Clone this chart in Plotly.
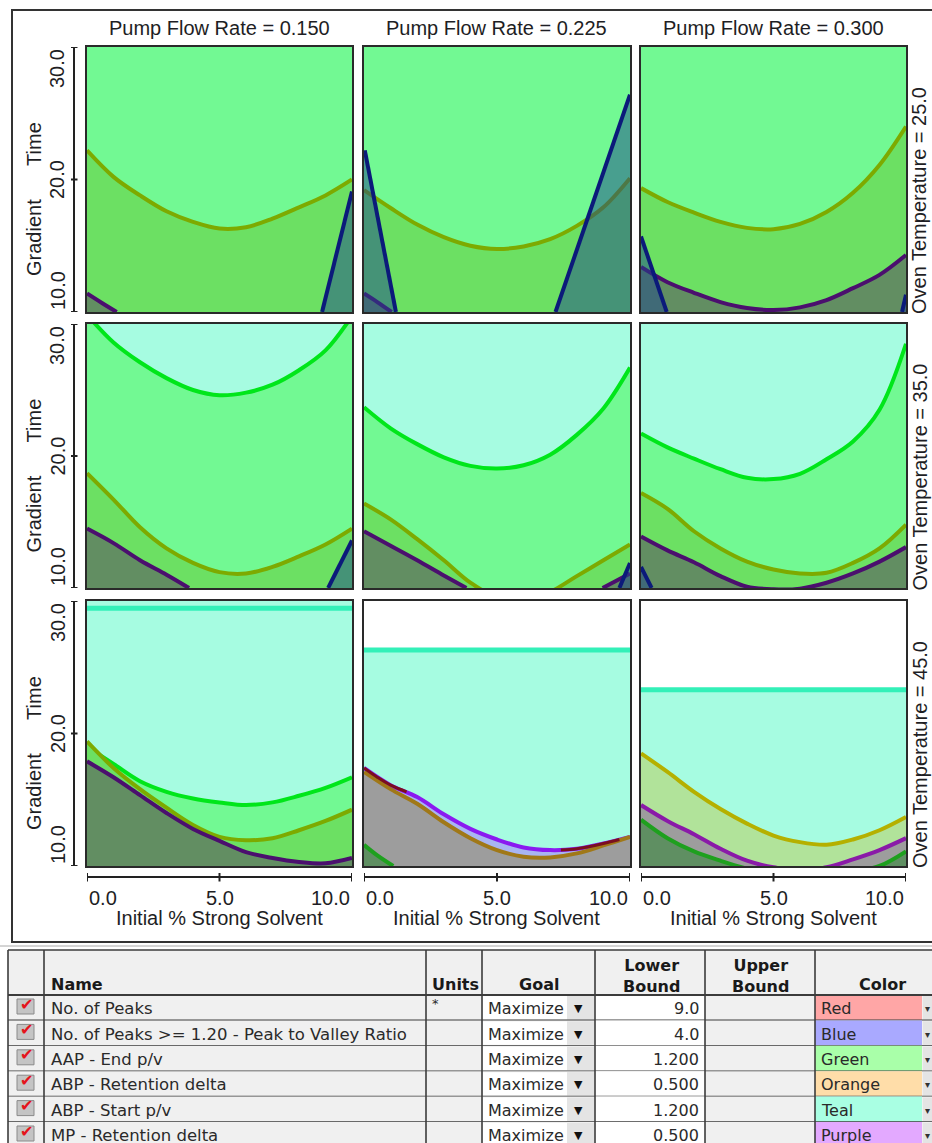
import plotly.graph_objects as go

W, H = 932, 1143

# ---------------- data ----------------
X_GRID = [0, 1, 2, 3, 4, 5, 6, 7, 8, 9, 10]
X_EDGES = [0, 10]
X_TICKS = [0.0, 5.0, 10.0]
X_TICK_TEXT = ["0.0", "5.0", "10.0"]
Y_TICKS = [10.0, 20.0, 30.0]
Y_TICK_TEXT = ["10.0", "20.0", "30.0"]
PUMP_FLOW = ["0.150", "0.225", "0.300"]
OVEN_TEMP = ["25.0", "35.0", "45.0"]
X_TITLE = "Initial % Strong Solvent"
Y_TITLE_A = "Gradient"
Y_TITLE_B = "Time"

# Oven Temperature = 25.0
R1C1_OLIVE = [22.2, 20.2, 18.8, 17.6, 16.8, 16.3, 16.4, 17.05, 17.9, 18.8, 20.0]
R1C1_PURPLE_X = [0.0, 0.55, 1.12]
R1C1_PURPLE_Y = [11.4, 10.7, 10.0]
R1C1_BLUE_X = [8.87, 10.0]
R1C1_BLUE_Y = [10.0, 19.1]

R1C2_OLIVE = [19.2, 17.85, 16.6, 15.65, 15.0, 14.75, 14.95, 15.5, 16.5, 17.9, 20.1]
R1C2_PURPLE_X = [0.0, 0.5, 1.04]
R1C2_PURPLE_Y = [11.4, 10.75, 10.0]
R1C2_BLUE_L_X = [0.03, 1.2]
R1C2_BLUE_L_Y = [22.2, 10.0]
R1C2_BLUE_R_X = [7.2, 10.0]
R1C2_BLUE_R_Y = [10.0, 26.4]

R1C3_OLIVE = [19.35, 18.3, 17.5, 16.8, 16.35, 16.25, 16.65, 17.55, 19.0, 21.1, 24.0]
R1C3_PURPLE = [13.4, 12.25, 11.45, 10.75, 10.3, 10.15, 10.35, 10.9, 11.8, 12.8, 14.3]
R1C3_BLUE_L_X = [0.0, 0.97]
R1C3_BLUE_L_Y = [15.7, 10.0]
R1C3_BLUE_R_X = [9.85, 10.0]
R1C3_BLUE_R_Y = [10.0, 11.3]

# Oven Temperature = 35.0
R2C1_GREEN = [30.7, 28.6, 27.1, 25.9, 25.0, 24.6, 24.8, 25.4, 26.5, 28.0, 30.6]
R2C1_OLIVE = [18.7, 16.7, 14.6, 13.0, 11.9, 11.2, 11.1, 11.6, 12.4, 13.3, 14.5]
R2C1_PURPLE_X = [0.0, 1.0, 2.0, 3.0, 3.85]
R2C1_PURPLE_Y = [14.5, 13.4, 12.1, 11.0, 10.0]
R2C1_BLUE_X = [9.1, 10.0]
R2C1_BLUE_Y = [10.0, 13.6]

R2C2_GREEN = [23.7, 22.1, 20.9, 19.9, 19.25, 19.05, 19.3, 20.1, 21.6, 23.6, 26.7]
R2C2_OLIVE = [16.4, 15.2, 13.7, 12.1, 10.4, 9.3, 9.0, 9.7, 10.9, 12.1, 13.3]
R2C2_PURPLE_L_X = [0.0, 1.0, 2.0, 3.0, 3.85]
R2C2_PURPLE_L_Y = [14.3, 13.2, 12.1, 10.95, 10.0]
R2C2_PURPLE_R_X = [8.97, 10.0]
R2C2_PURPLE_R_Y = [10.0, 11.1]
R2C2_BLUE_X = [9.6, 10.0]
R2C2_BLUE_Y = [10.0, 11.9]

R2C3_GREEN = [21.7, 20.65, 19.8, 19.0, 18.35, 18.25, 18.65, 19.75, 21.1, 23.5, 28.5]
R2C3_OLIVE = [17.2, 16.0, 14.3, 13.0, 12.0, 11.4, 11.1, 11.15, 11.9, 13.0, 14.8]
R2C3_PURPLE = [13.9, 12.85, 11.95, 10.9, 10.1, 9.9, 9.95, 10.4, 11.1, 12.0, 13.1]
R2C3_BLUE_X = [0.0, 0.4]
R2C3_BLUE_Y = [11.6, 10.0]

# Oven Temperature = 45.0
R3C1_TEAL = [29.45, 29.45]
R3C1_GREEN = [19.0, 17.7, 16.4, 15.6, 15.1, 14.8, 14.6, 14.8, 15.3, 15.9, 16.7]
R3C1_OLIVE = [19.4, 17.4, 15.8, 14.4, 13.1, 12.2, 11.95, 12.1, 12.7, 13.4, 14.25]
R3C1_PURPLE = [17.9, 16.7, 15.35, 14.0, 12.8, 11.9, 11.05, 10.6, 10.3, 10.2, 10.6]

R3C2_TEAL = [26.3, 26.3]
R3C2_VIOLET = [17.4, 16.1, 15.2, 13.9, 12.8, 12.0, 11.4, 11.2, 11.3, 11.7, 12.2]
R3C2_BROWN = [17.1, 15.8, 14.7, 13.3, 12.1, 11.2, 10.7, 10.65, 10.95, 11.55, 12.2]
R3C2_GREEN_X = [0.0, 0.5, 1.1]
R3C2_GREEN_Y = [11.6, 10.8, 10.0]
R3C2_RED_L_X = [0.0, 0.5, 1.0, 1.6]
R3C2_RED_L_Y = [17.4, 16.7, 16.1, 15.6]
R3C2_RED_R_X = [7.4, 8.0, 9.0, 9.6]
R3C2_RED_R_Y = [11.2, 11.3, 11.7, 12.0]

R3C3_TEAL = [23.3, 23.3]
R3C3_YELLOW = [18.5, 17.1, 15.6, 14.3, 13.2, 12.3, 11.8, 11.6, 12.0, 12.7, 13.7]
R3C3_PURPLE = [14.6, 13.4, 12.4, 11.3, 10.4, 9.9, 9.7, 9.9, 10.5, 11.2, 12.1]
R3C3_GREEN = [13.5, 12.1, 11.1, 10.4, 9.8, 9.4, 9.3, 9.4, 9.6, 10.0, 11.1]

# criteria table
TABLE_NAMES = ["No. of Peaks", "No. of Peaks >= 1.20 - Peak to Valley Ratio",
               "AAP - End p/v", "ABP - Retention delta", "ABP - Start p/v",
               "MP - Retention delta"]
TABLE_UNITS = ["*", "", "", "", "", ""]
TABLE_GOALS = ["Maximize"] * 6
TABLE_LOWER = ["9.0", "4.0", "1.200", "0.500", "1.200", "0.500"]
TABLE_UPPER = [""] * 6
TABLE_COLOR_NAMES = ["Red", "Blue", "Green", "Orange", "Teal", "Purple"]
TABLE_COLOR_FILLS = ["#FFA6A6", "#A9A9FF", "#A9FFA9", "#FFDDA9", "#A9FFE3", "#E3A9FF"]
TABLE_HEADERS = ["Name", "Units", "Goal", "Lower<br>Bound", "Upper<br>Bound", "Color"]

# ---------------- styles ----------------
C_LG = "#72F993"
C_MG = "#6CE063"
C_TEAL = "#A6FCE1"
C_PURPLE_OV = "rgba(84,21,98,0.4)"
C_BLUE_OV = "rgba(30,70,140,0.5)"
L_OLIVE = "#7DAA00"
L_BLUE = "#0B1A7A"
L_PURPLE = "#4B0F6E"
L_GREEN = "#00E61A"
L_TEAL = "#33F0B8"
L_VIOLET = "#8A1AF0"
L_BROWN = "#A07818"
L_DKGREEN = "#1EA01E"
L_PURPLE2 = "#8A1AA8"
L_YELLOW = "#B5B000"
L_RED = "#7A0F1E"
F_LBLUE = "#A8B5F2"
F_GRAY = "#9D9D9D"
F_DKGREEN = "#5F8F62"
F_YG = "#B1E39A"
TXT = "#1E1E24"
FONT = "Liberation Sans, Arial, sans-serif"
TFONT = "DejaVu Sans, Verdana, sans-serif"

COLS_PX = [(87, 352), (364, 630), (641, 906)]
ROWS_PX = [(47, 312), (324, 588), (601, 866)]


def fx(px):
    return px / W


def fy(py):
    return 1 - py / H


def names(k):
    return ("x" if k == 1 else f"x{k}", "y" if k == 1 else f"y{k}")


PANELS = {
    (1, 1): (C_LG, [
        ("below", X_GRID, R1C1_OLIVE, C_MG, L_OLIVE, 4),
        ("below", R1C1_PURPLE_X, R1C1_PURPLE_Y, C_PURPLE_OV, L_PURPLE, 4),
        ("right", R1C1_BLUE_X, R1C1_BLUE_Y, C_BLUE_OV, L_BLUE, 4),
    ]),
    (1, 2): (C_LG, [
        ("below", X_GRID, R1C2_OLIVE, C_MG, L_OLIVE, 4),
        ("below", R1C2_PURPLE_X, R1C2_PURPLE_Y, C_PURPLE_OV, L_PURPLE, 4),
        ("left", R1C2_BLUE_L_X, R1C2_BLUE_L_Y, C_BLUE_OV, L_BLUE, 4),
        ("right", R1C2_BLUE_R_X, R1C2_BLUE_R_Y, C_BLUE_OV, L_BLUE, 4),
    ]),
    (1, 3): (C_LG, [
        ("below", X_GRID, R1C3_OLIVE, C_MG, L_OLIVE, 4),
        ("below", X_GRID, R1C3_PURPLE, C_PURPLE_OV, L_PURPLE, 4),
        ("left", R1C3_BLUE_L_X, R1C3_BLUE_L_Y, C_BLUE_OV, L_BLUE, 4),
        ("right", R1C3_BLUE_R_X, R1C3_BLUE_R_Y, C_BLUE_OV, L_BLUE, 4),
    ]),
    (2, 1): (C_TEAL, [
        ("below", X_GRID, R2C1_GREEN, C_LG, L_GREEN, 4),
        ("below", X_GRID, R2C1_OLIVE, C_MG, L_OLIVE, 4),
        ("below", R2C1_PURPLE_X, R2C1_PURPLE_Y, C_PURPLE_OV, L_PURPLE, 4),
        ("right", R2C1_BLUE_X, R2C1_BLUE_Y, C_BLUE_OV, L_BLUE, 4),
    ]),
    (2, 2): (C_TEAL, [
        ("below", X_GRID, R2C2_GREEN, C_LG, L_GREEN, 4),
        ("below", X_GRID, R2C2_OLIVE, C_MG, L_OLIVE, 4),
        ("below", R2C2_PURPLE_L_X, R2C2_PURPLE_L_Y, C_PURPLE_OV, L_PURPLE, 4),
        ("right", R2C2_PURPLE_R_X, R2C2_PURPLE_R_Y, C_PURPLE_OV, L_PURPLE, 4),
        ("right", R2C2_BLUE_X, R2C2_BLUE_Y, C_BLUE_OV, L_BLUE, 4),
    ]),
    (2, 3): (C_TEAL, [
        ("below", X_GRID, R2C3_GREEN, C_LG, L_GREEN, 4),
        ("below", X_GRID, R2C3_OLIVE, C_MG, L_OLIVE, 4),
        ("below", X_GRID, R2C3_PURPLE, C_PURPLE_OV, L_PURPLE, 4),
        ("left", R2C3_BLUE_X, R2C3_BLUE_Y, C_BLUE_OV, L_BLUE, 4),
    ]),
    (3, 1): (C_TEAL, [
        ("below", X_EDGES, R3C1_TEAL, C_TEAL, L_TEAL, 5),
        ("below", X_GRID, R3C1_GREEN, C_LG, L_GREEN, 4),
        ("below", X_GRID, R3C1_OLIVE, C_MG, L_OLIVE, 4),
        ("below", X_GRID, R3C1_PURPLE, C_PURPLE_OV, L_PURPLE, 4),
    ]),
    (3, 2): ("#FFFFFF", [
        ("below", X_EDGES, R3C2_TEAL, C_TEAL, L_TEAL, 5),
        ("below", X_GRID, R3C2_VIOLET, F_LBLUE, L_VIOLET, 4),
        ("below", X_GRID, R3C2_BROWN, F_GRAY, L_BROWN, 4),
        ("below", R3C2_GREEN_X, R3C2_GREEN_Y, F_DKGREEN, L_DKGREEN, 4),
        ("line", R3C2_RED_L_X, R3C2_RED_L_Y, None, L_RED, 3),
        ("line", R3C2_RED_R_X, R3C2_RED_R_Y, None, L_RED, 3),
    ]),
    (3, 3): ("#FFFFFF", [
        ("below", X_EDGES, R3C3_TEAL, C_TEAL, L_TEAL, 5),
        ("below", X_GRID, R3C3_YELLOW, F_YG, L_YELLOW, 4),
        ("below", X_GRID, R3C3_PURPLE, F_GRAY, L_PURPLE2, 4),
        ("below", X_GRID, R3C3_GREEN, F_DKGREEN, L_DKGREEN, 4),
    ]),
}

fig = go.Figure()
shapes = []
annotations = []


def add_layer(k, kind, xs, ys, fill, line, width):
    xa, ya = names(k)
    common = dict(xaxis=xa, yaxis=ya, mode="lines", hoverinfo="skip", showlegend=False)
    if kind == "below":
        fig.add_trace(go.Scatter(x=xs, y=ys, fill="tozeroy", fillcolor=fill,
                                 line=dict(color=line, width=width, shape="spline", smoothing=1.0),
                                 **common))
    elif kind in ("left", "right"):
        edge = -1 if kind == "left" else 11
        fig.add_trace(go.Scatter(x=list(xs) + [edge, edge], y=list(ys) + [ys[-1], ys[0]],
                                 fill="toself", fillcolor=fill, line=dict(width=0), **common))
        fig.add_trace(go.Scatter(x=xs, y=ys, line=dict(color=line, width=width), **common))
    else:
        fig.add_trace(go.Scatter(x=xs, y=ys, line=dict(color=line, width=width, shape="spline"),
                                 **common))


layout = dict(width=W, height=H, margin=dict(l=0, r=0, t=0, b=0),
              paper_bgcolor="white", plot_bgcolor="white", showlegend=False)

for r in range(1, 4):
    for c in range(1, 4):
        k = (r - 1) * 3 + c
        xa, ya = names(k)
        x0, x1 = COLS_PX[c - 1]
        t0, b0 = ROWS_PX[r - 1]
        axstyle = dict(showgrid=False, zeroline=False, showticklabels=False, ticks="",
                       showline=True, mirror=True, linecolor="#2A2A2A", linewidth=2)
        layout["xaxis" + ("" if k == 1 else str(k))] = dict(domain=[fx(x0), fx(x1)], range=[0, 10],
                                                           anchor=ya, **axstyle)
        layout["yaxis" + ("" if k == 1 else str(k))] = dict(domain=[fy(b0), fy(t0)], range=[10, 30],
                                                           anchor=xa, **axstyle)
        bg, layers = PANELS[(r, c)]
        shapes.append(dict(type="rect", xref=f"{xa} domain", yref=f"{ya} domain",
                           x0=0, x1=1, y0=0, y1=1, fillcolor=bg, line=dict(width=0), layer="below"))
        for lay in layers:
            add_layer(k, *lay)

# column titles
for c in range(3):
    x0, x1 = COLS_PX[c]
    annotations.append(dict(text=f"Pump Flow Rate = {PUMP_FLOW[c]}", xref="paper", yref="paper",
                            x=fx((x0 + x1) / 2), y=fy(28), xanchor="center", yanchor="middle",
                            showarrow=False, font=dict(family=FONT, size=20, color=TXT)))

# row titles (right) and left y axes
for r in range(3):
    t0, b0 = ROWS_PX[r]
    k = r * 3 + 1
    ya = names(k)[1]
    annotations.append(dict(text=f"Oven Temperature = {OVEN_TEMP[r]}", xref="paper", yref="paper",
                            x=fx(919.5), y=fy((t0 + b0) / 2 + 21), xanchor="center", yanchor="middle",
                            textangle=-90, showarrow=False, font=dict(family=FONT, size=20, color=TXT)))
    annotations.append(dict(text=Y_TITLE_A + "\u00a0" * 6 + Y_TITLE_B, xref="paper", yref="paper",
                            x=fx(33.5), y=fy((t0 + b0) / 2 + 20), xanchor="center", yanchor="middle",
                            textangle=-90, showarrow=False, font=dict(family=FONT, size=20, color=TXT)))
    shapes.append(dict(type="line", xref="paper", yref=ya, x0=fx(74), x1=fx(74), y0=Y_TICKS[0],
                       y1=Y_TICKS[-1], line=dict(color="#222", width=2)))
    for i, v in enumerate(Y_TICKS):
        shapes.append(dict(type="line", xref="paper", yref=ya, x0=fx(71), x1=fx(77.5), y0=v, y1=v,
                           line=dict(color="#222", width=2)))
        anch = "bottom" if i == 0 else ("top" if i == len(Y_TICKS) - 1 else "middle")
        annotations.append(dict(text=Y_TICK_TEXT[i], xref="paper", yref=ya, x=fx(57.5), y=v,
                                xanchor="center", yanchor=anch, textangle=-90, showarrow=False,
                                font=dict(family=FONT, size=20, color=TXT)))

# bottom x axes
for c in range(3):
    k = 6 + c + 1
    xa = names(k)[0]
    x0, x1 = COLS_PX[c]
    shapes.append(dict(type="line", xref=xa, yref="paper", x0=X_TICKS[0], x1=X_TICKS[-1],
                       y0=fy(877), y1=fy(877), line=dict(color="#222", width=2)))
    for i, v in enumerate(X_TICKS):
        shapes.append(dict(type="line", xref=xa, yref="paper", x0=v, x1=v, y0=fy(873), y1=fy(881.5),
                           line=dict(color="#222", width=2)))
        anch = "left" if i == 0 else ("right" if i == len(X_TICKS) - 1 else "center")
        annotations.append(dict(text=X_TICK_TEXT[i], xref=xa, yref="paper", x=v, y=fy(898),
                                xanchor=anch, yanchor="middle", showarrow=False,
                                font=dict(family=FONT, size=20, color=TXT)))
    annotations.append(dict(text=X_TITLE, xref="paper", yref="paper", x=fx((x0 + x1) / 2), y=fy(918),
                            xanchor="center", yanchor="middle", showarrow=False,
                            font=dict(family=FONT, size=20, color=TXT)))

# outer frame of the graph area
shapes.append(dict(type="rect", xref="paper", yref="paper", x0=fx(12), x1=fx(950), y0=fy(942), y1=fy(10),
                   line=dict(color="#333", width=2), fillcolor="rgba(0,0,0,0)"))
shapes.append(dict(type="line", xref="paper", yref="paper", x0=fx(0), x1=fx(932), y0=fy(946), y1=fy(946),
                   line=dict(color="#AAA", width=1)))

# ---------------- criteria table ----------------
COL_EDGES = [8, 44, 426, 482, 595, 705, 815, 950]
T_TOP, T_HEAD = 950, 995
ROW_H = 25.4
GRID = "#3C3C3C"
CELL_GRAY = "#F0F0F0"

shapes.append(dict(type="rect", xref="paper", yref="paper", x0=fx(COL_EDGES[0]), x1=fx(COL_EDGES[-1]),
                   y0=fy(T_HEAD), y1=fy(T_TOP), fillcolor=CELL_GRAY, line=dict(width=0)))
n_rows = len(TABLE_NAMES)
for i in range(n_rows):
    top = T_HEAD + i * ROW_H
    bot = top + ROW_H
    shapes.append(dict(type="rect", xref="paper", yref="paper", x0=fx(COL_EDGES[0]), x1=fx(COL_EDGES[-1]),
                       y0=fy(bot), y1=fy(top), fillcolor=CELL_GRAY, line=dict(width=0)))
    shapes.append(dict(type="rect", xref="paper", yref="paper", x0=fx(483), x1=fx(567),
                       y0=fy(bot - 1), y1=fy(top + 1), fillcolor="white", line=dict(width=0)))
    shapes.append(dict(type="rect", xref="paper", yref="paper", x0=fx(567), x1=fx(594),
                       y0=fy(bot - 1), y1=fy(top + 1), fillcolor="#E4E4E4", line=dict(width=0)))
    shapes.append(dict(type="rect", xref="paper", yref="paper", x0=fx(COL_EDGES[4]), x1=fx(COL_EDGES[5]),
                       y0=fy(bot), y1=fy(top), fillcolor="white", line=dict(width=0)))
    shapes.append(dict(type="rect", xref="paper", yref="paper", x0=fx(COL_EDGES[6]), x1=fx(922),
                       y0=fy(bot), y1=fy(top), fillcolor=TABLE_COLOR_FILLS[i], line=dict(width=0)))
    shapes.append(dict(type="rect", xref="paper", yref="paper", x0=fx(923), x1=fx(950),
                       y0=fy(bot - 1), y1=fy(top + 1), fillcolor="#E4E4E4", line=dict(width=0)))
    # checkbox icon
    shapes.append(dict(type="rect", xref="paper", yref="paper", x0=fx(17), x1=fx(34),
                       y0=fy(top + 19), y1=fy(top + 4), fillcolor="#C4C4C4", line=dict(color="#8A8A8A", width=1)))
    annotations.append(dict(text="\u2714", xref="paper", yref="paper", x=fx(26.5), y=fy(top + 9),
                            xanchor="center", yanchor="middle", showarrow=False,
                            font=dict(family=TFONT, size=16, color="#E4141C")))
    ymid = fy(top + ROW_H / 2 + 1)
    tf = dict(family=TFONT, size=16, color="#2A2A2A")
    annotations.append(dict(text=TABLE_NAMES[i], xref="paper", yref="paper", x=fx(49), y=ymid,
                            xanchor="left", yanchor="middle", showarrow=False,
                            font=dict(family=TFONT, size=16.5, color="#2A2A2A")))
    if TABLE_UNITS[i]:
        annotations.append(dict(text=TABLE_UNITS[i], xref="paper", yref="paper", x=fx(430), y=fy(top + 8),
                                xanchor="left", yanchor="middle", showarrow=False,
                                font=dict(family=TFONT, size=13, color="#2A2A2A")))
    annotations.append(dict(text=TABLE_GOALS[i], xref="paper", yref="paper", x=fx(486), y=ymid,
                            xanchor="left", yanchor="middle", showarrow=False, font=tf))
    annotations.append(dict(text="\u25BC", xref="paper", yref="paper", x=fx(578.5), y=ymid,
                            xanchor="center", yanchor="middle", showarrow=False,
                            font=dict(family=TFONT, size=11, color="#111")))
    annotations.append(dict(text=TABLE_LOWER[i], xref="paper", yref="paper", x=fx(701), y=ymid,
                            xanchor="right", yanchor="middle", showarrow=False, font=tf))
    if TABLE_UPPER[i]:
        annotations.append(dict(text=TABLE_UPPER[i], xref="paper", yref="paper", x=fx(811), y=ymid,
                                xanchor="right", yanchor="middle", showarrow=False, font=tf))
    annotations.append(dict(text=TABLE_COLOR_NAMES[i], xref="paper", yref="paper", x=fx(819), y=ymid,
                            xanchor="left", yanchor="middle", showarrow=False, font=tf))
    annotations.append(dict(text="\u25BE", xref="paper", yref="paper", x=fx(927), y=ymid,
                            xanchor="center", yanchor="middle", showarrow=False,
                            font=dict(family=TFONT, size=10, color="#333")))
    shapes.append(dict(type="line", xref="paper", yref="paper", x0=fx(COL_EDGES[0]), x1=fx(COL_EDGES[-1]),
                       y0=fy(bot), y1=fy(bot), line=dict(color=GRID, width=1.6)))

# header texts
hf = dict(family=TFONT, size=16, color="#1A1A1A")
hx = [(49, "left", 984), (430, "left", 984), (538.5, "center", 984),
      (651, "center", 975.5), (760, "center", 975.5), (882, "center", 984)]
for (xp, anch, yp), txt in zip(hx, TABLE_HEADERS):
    annotations.append(dict(text=f"<b>{txt}</b>", xref="paper", yref="paper", x=fx(xp), y=fy(yp),
                            xanchor=anch, yanchor="middle", showarrow=False, font=hf))

# table grid
for e in COL_EDGES:
    shapes.append(dict(type="line", xref="paper", yref="paper", x0=fx(e), x1=fx(e), y0=fy(H + 20),
                       y1=fy(T_TOP), line=dict(color=GRID, width=1.6)))
shapes.append(dict(type="line", xref="paper", yref="paper", x0=fx(COL_EDGES[0]), x1=fx(COL_EDGES[-1]),
                   y0=fy(T_TOP), y1=fy(T_TOP), line=dict(color=GRID, width=1.6)))
shapes.append(dict(type="line", xref="paper", yref="paper", x0=fx(COL_EDGES[0]), x1=fx(COL_EDGES[-1]),
                   y0=fy(T_HEAD), y1=fy(T_HEAD), line=dict(color=GRID, width=2)))

layout["shapes"] = shapes
layout["annotations"] = annotations
fig.update_layout(**layout)
fig.write_html("out.html")
